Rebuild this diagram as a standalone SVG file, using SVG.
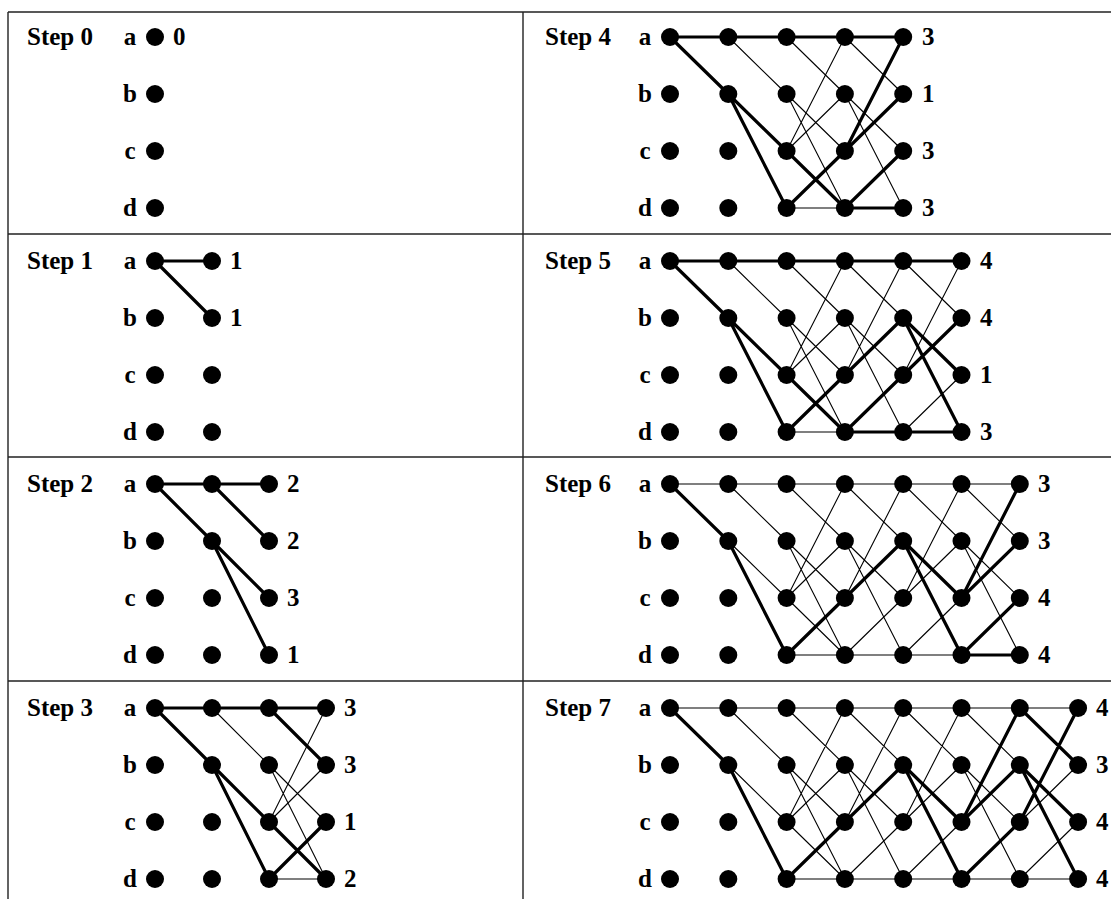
<svg xmlns="http://www.w3.org/2000/svg" xmlns:xlink="http://www.w3.org/1999/xlink" width="1111" height="899" viewBox="0 0 1111 899">
<defs>
<style>
.grid{stroke:#222;stroke-width:1.4;fill:none}
.b{stroke:#000;stroke-width:3.2;fill:none;stroke-linecap:round}
.t{stroke:#000;stroke-width:1.1;fill:none}
.lbl{font-family:"Liberation Serif","Times New Roman",serif;font-weight:bold;font-size:25px;fill:#000}
.st{text-anchor:start}
.mid{text-anchor:middle}
</style>
<circle id="d" r="9" fill="#000"/>
</defs>
<rect width="1111" height="899" fill="#fff"/>
<g id="table">
<path class="grid" d="M8 12H1111M8 234H1111M8 457H1111M8 681H1111M8 12V899M523 12V899"/>
</g>
<g id="connectors">
<g transform="translate(155,261)">
<path class="b" d="M0 0H57M0 0L57 57"/>
</g>
<g transform="translate(155,484)">
<path class="b" d="M0 0H114M0 0L57 57M57 0L114 57M57 57L114 114M57 57L114 171"/>
</g>
<g transform="translate(155,708)">
<path class="t" d="M57 0L114 57M114 57L171 114M114 57L171 171M114 114L171 0M114 114L171 57M114 171H171"/>
<path class="b" d="M0 0H171M0 0L57 57M57 57L114 114M57 57L114 171M114 0L171 57M114 114L171 171M114 171L171 114"/>
</g>
<g transform="translate(670,37)">
<path class="t" d="M58.3 0L116.6 57M116.6 0L174.9 57M174.9 0L233.2 57M116.6 57L174.9 114M116.6 57L174.9 171M174.9 57L233.2 114M174.9 57L233.2 171M116.6 114L174.9 0M116.6 114L174.9 57M116.6 171H174.9"/>
<path class="b" d="M0 0H233.2M0 0L58.3 57M58.3 57L116.6 114M58.3 57L116.6 171M116.6 114L174.9 171M116.6 171L174.9 114M174.9 114L233.2 0M174.9 114L233.2 57M174.9 171L233.2 114M174.9 171H233.2"/>
</g>
<g transform="translate(670,261)">
<path class="t" d="M58.3 0L116.6 57M116.6 0L174.9 57M174.9 0L233.2 57M233.2 0L291.5 57M116.6 57L174.9 114M116.6 57L174.9 171M174.9 57L233.2 114M174.9 57L233.2 171M116.6 114L174.9 0M116.6 114L174.9 57M174.9 114L233.2 0M233.2 114L291.5 0M116.6 171H174.9M233.2 171L291.5 114"/>
<path class="b" d="M0 0H291.5M0 0L58.3 57M58.3 57L116.6 114M58.3 57L116.6 171M116.6 114L174.9 171M116.6 171L174.9 114M174.9 114L233.2 57M174.9 171L233.2 114M174.9 171H233.2M233.2 57L291.5 114M233.2 57L291.5 171M233.2 114L291.5 57M233.2 171H291.5"/>
</g>
<g transform="translate(670,484)">
<path class="t" d="M0 0H349.8M58.3 0L116.6 57M116.6 0L174.9 57M174.9 0L233.2 57M233.2 0L291.5 57M291.5 0L349.8 57M58.3 57L116.6 114M116.6 57L174.9 114M116.6 57L174.9 171M174.9 57L233.2 114M174.9 57L233.2 171M291.5 57L349.8 114M291.5 57L349.8 171M116.6 114L174.9 0M116.6 114L174.9 57M116.6 114L174.9 171M174.9 114L233.2 0M233.2 114L291.5 0M233.2 114L291.5 57M116.6 171H174.9M174.9 171L233.2 114M174.9 171H233.2M233.2 171L291.5 114M233.2 171H291.5"/>
<path class="b" d="M0 0L58.3 57M58.3 57L116.6 171M116.6 171L174.9 114M174.9 114L233.2 57M233.2 57L291.5 114M233.2 57L291.5 171M291.5 114L349.8 0M291.5 114L349.8 57M291.5 171L349.8 114M291.5 171H349.8"/>
</g>
<g transform="translate(670,708)">
<path class="t" d="M0 0H408.1M58.3 0L116.6 57M116.6 0L174.9 57M174.9 0L233.2 57M233.2 0L291.5 57M291.5 0L349.8 57M58.3 57L116.6 114M116.6 57L174.9 114M116.6 57L174.9 171M174.9 57L233.2 114M174.9 57L233.2 171M291.5 57L349.8 114M291.5 57L349.8 171M116.6 114L174.9 0M116.6 114L174.9 57M116.6 114L174.9 171M174.9 114L233.2 0M233.2 114L291.5 0M233.2 114L291.5 57M349.8 114L408.1 57M116.6 171H174.9M174.9 171L233.2 114M174.9 171H233.2M233.2 171L291.5 114M233.2 171H291.5M291.5 171H349.8M349.8 171L408.1 114M349.8 171H408.1"/>
<path class="b" d="M0 0L58.3 57M58.3 57L116.6 171M116.6 171L174.9 114M174.9 114L233.2 57M233.2 57L291.5 114M233.2 57L291.5 171M291.5 114L349.8 0M291.5 114L349.8 57M291.5 171L349.8 114M349.8 0L408.1 57M349.8 57L408.1 114M349.8 57L408.1 171M349.8 114L408.1 0"/>
</g>
</g>
<g id="step0" transform="translate(155,37)">
<text class="lbl st" x="-128" y="8">Step 0</text>
<text class="lbl mid" x="-25" y="8">a</text><text class="lbl mid" x="-25" y="65">b</text><text class="lbl mid" x="-25" y="122">c</text><text class="lbl mid" x="-25" y="179">d</text>
<use href="#d" x="0" y="0"/><use href="#d" x="0" y="57"/><use href="#d" x="0" y="114"/><use href="#d" x="0" y="171"/>
<text class="lbl st" x="18" y="8">0</text>
</g>
<g id="step1" transform="translate(155,261)">
<text class="lbl st" x="-128" y="8">Step 1</text>
<text class="lbl mid" x="-25" y="8">a</text><text class="lbl mid" x="-25" y="65">b</text><text class="lbl mid" x="-25" y="122">c</text><text class="lbl mid" x="-25" y="179">d</text>
<use href="#d" x="0" y="0"/><use href="#d" x="0" y="57"/><use href="#d" x="0" y="114"/><use href="#d" x="0" y="171"/>
<use href="#d" x="57" y="0"/><use href="#d" x="57" y="57"/><use href="#d" x="57" y="114"/><use href="#d" x="57" y="171"/>
<text class="lbl st" x="75" y="8">1</text><text class="lbl st" x="75" y="65">1</text>
</g>
<g id="step2" transform="translate(155,484)">
<text class="lbl st" x="-128" y="8">Step 2</text>
<text class="lbl mid" x="-25" y="8">a</text><text class="lbl mid" x="-25" y="65">b</text><text class="lbl mid" x="-25" y="122">c</text><text class="lbl mid" x="-25" y="179">d</text>
<use href="#d" x="0" y="0"/><use href="#d" x="0" y="57"/><use href="#d" x="0" y="114"/><use href="#d" x="0" y="171"/>
<use href="#d" x="57" y="0"/><use href="#d" x="57" y="57"/><use href="#d" x="57" y="114"/><use href="#d" x="57" y="171"/>
<use href="#d" x="114" y="0"/><use href="#d" x="114" y="57"/><use href="#d" x="114" y="114"/><use href="#d" x="114" y="171"/>
<text class="lbl st" x="132" y="8">2</text><text class="lbl st" x="132" y="65">2</text><text class="lbl st" x="132" y="122">3</text><text class="lbl st" x="132" y="179">1</text>
</g>
<g id="step3" transform="translate(155,708)">
<text class="lbl st" x="-128" y="8">Step 3</text>
<text class="lbl mid" x="-25" y="8">a</text><text class="lbl mid" x="-25" y="65">b</text><text class="lbl mid" x="-25" y="122">c</text><text class="lbl mid" x="-25" y="179">d</text>
<use href="#d" x="0" y="0"/><use href="#d" x="0" y="57"/><use href="#d" x="0" y="114"/><use href="#d" x="0" y="171"/>
<use href="#d" x="57" y="0"/><use href="#d" x="57" y="57"/><use href="#d" x="57" y="114"/><use href="#d" x="57" y="171"/>
<use href="#d" x="114" y="0"/><use href="#d" x="114" y="57"/><use href="#d" x="114" y="114"/><use href="#d" x="114" y="171"/>
<use href="#d" x="171" y="0"/><use href="#d" x="171" y="57"/><use href="#d" x="171" y="114"/><use href="#d" x="171" y="171"/>
<text class="lbl st" x="189" y="8">3</text><text class="lbl st" x="189" y="65">3</text><text class="lbl st" x="189" y="122">1</text><text class="lbl st" x="189" y="179">2</text>
</g>
<g id="step4" transform="translate(670,37)">
<text class="lbl st" x="-125" y="8">Step 4</text>
<text class="lbl mid" x="-25" y="8">a</text><text class="lbl mid" x="-25" y="65">b</text><text class="lbl mid" x="-25" y="122">c</text><text class="lbl mid" x="-25" y="179">d</text>
<use href="#d" x="0" y="0"/><use href="#d" x="0" y="57"/><use href="#d" x="0" y="114"/><use href="#d" x="0" y="171"/>
<use href="#d" x="58.3" y="0"/><use href="#d" x="58.3" y="57"/><use href="#d" x="58.3" y="114"/><use href="#d" x="58.3" y="171"/>
<use href="#d" x="116.6" y="0"/><use href="#d" x="116.6" y="57"/><use href="#d" x="116.6" y="114"/><use href="#d" x="116.6" y="171"/>
<use href="#d" x="174.9" y="0"/><use href="#d" x="174.9" y="57"/><use href="#d" x="174.9" y="114"/><use href="#d" x="174.9" y="171"/>
<use href="#d" x="233.2" y="0"/><use href="#d" x="233.2" y="57"/><use href="#d" x="233.2" y="114"/><use href="#d" x="233.2" y="171"/>
<text class="lbl st" x="252" y="8">3</text><text class="lbl st" x="252" y="65">1</text><text class="lbl st" x="252" y="122">3</text><text class="lbl st" x="252" y="179">3</text>
</g>
<g id="step5" transform="translate(670,261)">
<text class="lbl st" x="-125" y="8">Step 5</text>
<text class="lbl mid" x="-25" y="8">a</text><text class="lbl mid" x="-25" y="65">b</text><text class="lbl mid" x="-25" y="122">c</text><text class="lbl mid" x="-25" y="179">d</text>
<use href="#d" x="0" y="0"/><use href="#d" x="0" y="57"/><use href="#d" x="0" y="114"/><use href="#d" x="0" y="171"/>
<use href="#d" x="58.3" y="0"/><use href="#d" x="58.3" y="57"/><use href="#d" x="58.3" y="114"/><use href="#d" x="58.3" y="171"/>
<use href="#d" x="116.6" y="0"/><use href="#d" x="116.6" y="57"/><use href="#d" x="116.6" y="114"/><use href="#d" x="116.6" y="171"/>
<use href="#d" x="174.9" y="0"/><use href="#d" x="174.9" y="57"/><use href="#d" x="174.9" y="114"/><use href="#d" x="174.9" y="171"/>
<use href="#d" x="233.2" y="0"/><use href="#d" x="233.2" y="57"/><use href="#d" x="233.2" y="114"/><use href="#d" x="233.2" y="171"/>
<use href="#d" x="291.5" y="0"/><use href="#d" x="291.5" y="57"/><use href="#d" x="291.5" y="114"/><use href="#d" x="291.5" y="171"/>
<text class="lbl st" x="310" y="8">4</text><text class="lbl st" x="310" y="65">4</text><text class="lbl st" x="310" y="122">1</text><text class="lbl st" x="310" y="179">3</text>
</g>
<g id="step6" transform="translate(670,484)">
<text class="lbl st" x="-125" y="8">Step 6</text>
<text class="lbl mid" x="-25" y="8">a</text><text class="lbl mid" x="-25" y="65">b</text><text class="lbl mid" x="-25" y="122">c</text><text class="lbl mid" x="-25" y="179">d</text>
<use href="#d" x="0" y="0"/><use href="#d" x="0" y="57"/><use href="#d" x="0" y="114"/><use href="#d" x="0" y="171"/>
<use href="#d" x="58.3" y="0"/><use href="#d" x="58.3" y="57"/><use href="#d" x="58.3" y="114"/><use href="#d" x="58.3" y="171"/>
<use href="#d" x="116.6" y="0"/><use href="#d" x="116.6" y="57"/><use href="#d" x="116.6" y="114"/><use href="#d" x="116.6" y="171"/>
<use href="#d" x="174.9" y="0"/><use href="#d" x="174.9" y="57"/><use href="#d" x="174.9" y="114"/><use href="#d" x="174.9" y="171"/>
<use href="#d" x="233.2" y="0"/><use href="#d" x="233.2" y="57"/><use href="#d" x="233.2" y="114"/><use href="#d" x="233.2" y="171"/>
<use href="#d" x="291.5" y="0"/><use href="#d" x="291.5" y="57"/><use href="#d" x="291.5" y="114"/><use href="#d" x="291.5" y="171"/>
<use href="#d" x="349.8" y="0"/><use href="#d" x="349.8" y="57"/><use href="#d" x="349.8" y="114"/><use href="#d" x="349.8" y="171"/>
<text class="lbl st" x="368" y="8">3</text><text class="lbl st" x="368" y="65">3</text><text class="lbl st" x="368" y="122">4</text><text class="lbl st" x="368" y="179">4</text>
</g>
<g id="step7" transform="translate(670,708)">
<text class="lbl st" x="-125" y="8">Step 7</text>
<text class="lbl mid" x="-25" y="8">a</text><text class="lbl mid" x="-25" y="65">b</text><text class="lbl mid" x="-25" y="122">c</text><text class="lbl mid" x="-25" y="179">d</text>
<use href="#d" x="0" y="0"/><use href="#d" x="0" y="57"/><use href="#d" x="0" y="114"/><use href="#d" x="0" y="171"/>
<use href="#d" x="58.3" y="0"/><use href="#d" x="58.3" y="57"/><use href="#d" x="58.3" y="114"/><use href="#d" x="58.3" y="171"/>
<use href="#d" x="116.6" y="0"/><use href="#d" x="116.6" y="57"/><use href="#d" x="116.6" y="114"/><use href="#d" x="116.6" y="171"/>
<use href="#d" x="174.9" y="0"/><use href="#d" x="174.9" y="57"/><use href="#d" x="174.9" y="114"/><use href="#d" x="174.9" y="171"/>
<use href="#d" x="233.2" y="0"/><use href="#d" x="233.2" y="57"/><use href="#d" x="233.2" y="114"/><use href="#d" x="233.2" y="171"/>
<use href="#d" x="291.5" y="0"/><use href="#d" x="291.5" y="57"/><use href="#d" x="291.5" y="114"/><use href="#d" x="291.5" y="171"/>
<use href="#d" x="349.8" y="0"/><use href="#d" x="349.8" y="57"/><use href="#d" x="349.8" y="114"/><use href="#d" x="349.8" y="171"/>
<use href="#d" x="408.1" y="0"/><use href="#d" x="408.1" y="57"/><use href="#d" x="408.1" y="114"/><use href="#d" x="408.1" y="171"/>
<text class="lbl st" x="426" y="8">4</text><text class="lbl st" x="426" y="65">3</text><text class="lbl st" x="426" y="122">4</text><text class="lbl st" x="426" y="179">4</text>
</g>
</svg>
